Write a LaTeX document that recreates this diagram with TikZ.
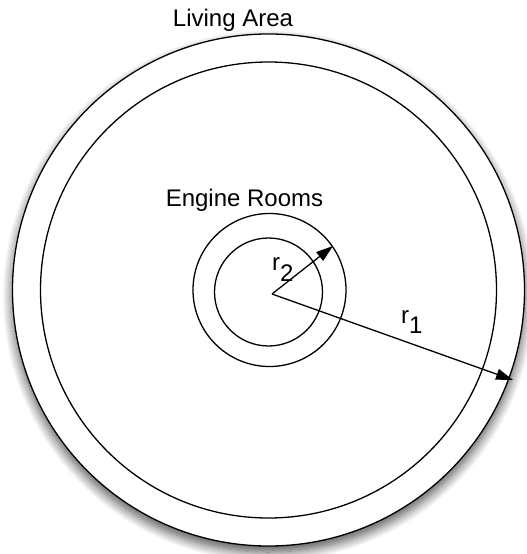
\documentclass[tikz,border=0pt]{standalone}
\usepackage{fontspec}
\setmainfont{Liberation Sans}
\usetikzlibrary{arrows.meta,shadows.blur}
\tikzset{
  ring/.style={circle, draw=black, line width=1.3bp, inner sep=0pt, fill=white},
  lbl/.style={inner sep=0pt, anchor=base, font=\fontsize{24bp}{28bp}\selectfont},
  rlbl/.style={inner sep=0pt, anchor=base west, font=\fontsize{24bp}{28bp}\selectfont},
  arr/.style={line width=1.3bp, -{Triangle[length=17bp,width=11bp]}}
}
\begin{document}
\begin{tikzpicture}[x=1bp,y=-1bp]
\useasboundingbox (0,0) rectangle (527,554);
\node[ring, minimum size=512bp, blur shadow={shadow xshift=0bp, shadow yshift=-6bp, shadow blur radius=10bp, shadow blur steps=12, shadow opacity=70}] (living) at (268.5,290) {};
\node[ring, minimum size=456bp] (inner) at (268.5,290) {};
\node[ring, minimum size=153bp] (engout) at (269.5,290) {};
\node[ring, minimum size=108bp] (engin) at (268.5,292) {};
\node[lbl] (livinglbl) at (233,27) {Living Area};
\node[lbl] (enginelbl) at (244.5,207) {Engine Rooms};
\coordinate (c) at (272,294);
\coordinate (t1) at (513,380);
\coordinate (t2) at (333,246);
\draw[arr] (c) -- (t1);
\draw[arr] (c) -- (t2);
\node[rlbl] (r1) at (401,323) {r\raisebox{-10bp}{1}};
\node[rlbl] (r2) at (272,270) {r\raisebox{-11bp}{2}};
\end{tikzpicture}
\end{document}
